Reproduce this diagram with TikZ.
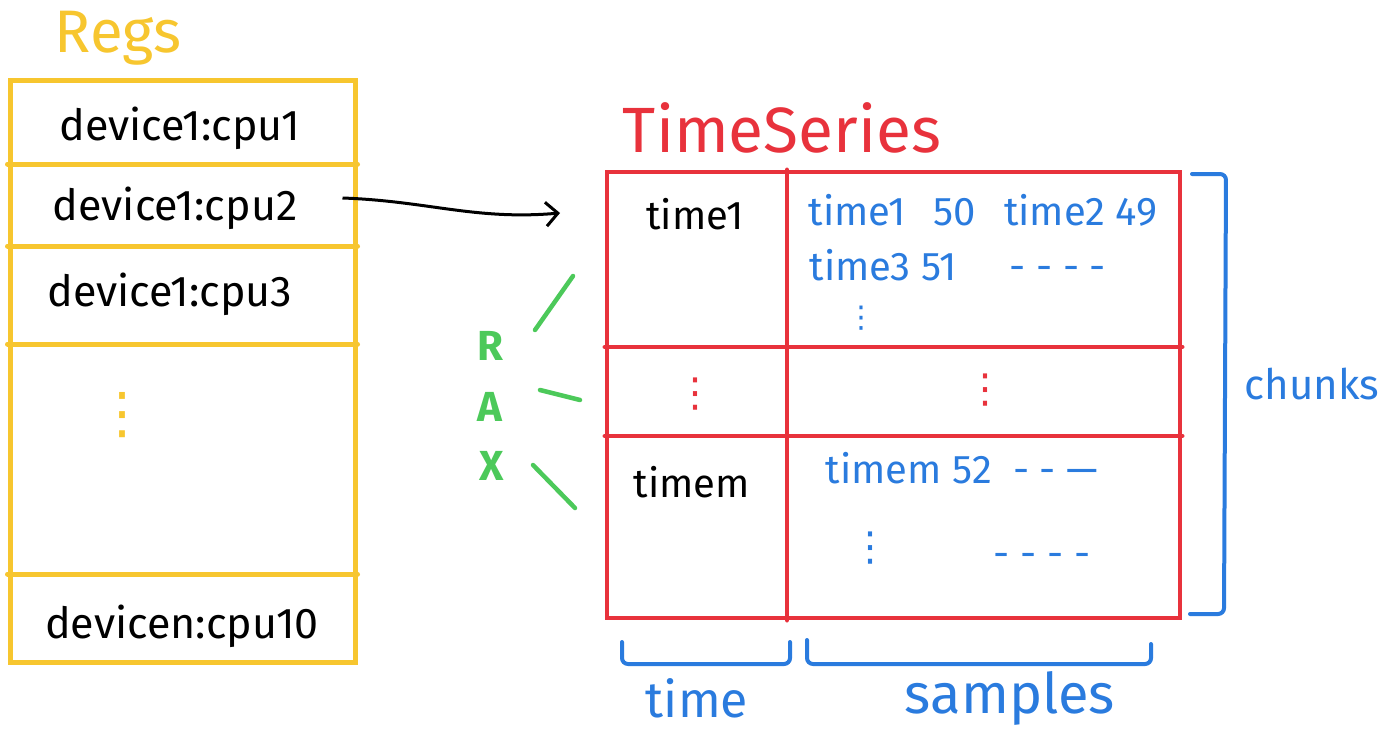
\documentclass[tikz,border=0pt]{standalone}
\usepackage{fontspec}
\setmainfont{Fira Sans}
\newfontfamily\dotsfont{DejaVu Sans}
\usepackage{xcolor}
\usetikzlibrary{arrows.meta,positioning,calc}

\definecolor{regyellow}{HTML}{F7C62F}
\definecolor{tsred}{HTML}{E8323C}
\definecolor{chunkblue}{HTML}{2A7BDE}
\definecolor{raxgreen}{HTML}{4CC95A}

\begin{document}
\begin{tikzpicture}[
    x=1pt, y=-1pt,
    regline/.style={
        draw=regyellow,
        line width=5pt,
        line cap=round
    },
    tsline/.style={
        draw=tsred,
        line width=4.5pt,
        line cap=round
    },
    reg/.style={
        font=\fontsize{43}{48}\selectfont,
        inner sep=2pt
    },
    cell/.style={
        font=\fontsize{40}{46}\selectfont,
        inner sep=2pt
    },
    sample/.style={
        font=\fontsize{40}{46}\selectfont,
        text=chunkblue,
        inner sep=2pt
    },
    more/.style={
        font=\dotsfont\fontsize{40}{46}\selectfont,
        inner sep=0pt
    },
    bracket/.style={
        draw=chunkblue,
        line width=4pt,
        line cap=round,
        rounded corners=6pt
    },
    tag/.style={
        text=chunkblue,
        inner sep=0pt
    },
    rax/.style={
        font=\fontsize{42}{46}\selectfont\bfseries,
        text=raxgreen,
        inner sep=1pt
    },
    raxmark/.style={
        draw=raxgreen,
        line width=4.5pt,
        line cap=round
    },
    arrow/.style={
        -{Straight Barb[length=12pt, width=24pt, line width=3pt]},
        line width=3pt
    }
]
\useasboundingbox (0,0) rectangle (1396,736);

% registry of series
\node[font=\fontsize{60}{66}\selectfont, text=regyellow] (regs) at (118,38) {Regs};
\node[regline, minimum width=345, minimum height=582, inner sep=0pt] (regbox) at (182.5,371) {};
\foreach \y in {164,246,344,574}
    \draw[regline] (regbox.west |- 0,\y) -- (regbox.east |- 0,\y);

\node[reg] (cpu1) at (180,128) {device1:cpu1};
\node[reg] (cpu2) at (175,208) {device1:cpu2};
\node[reg] (cpu3) at (170,294) {device1:cpu3};
\node[more, text=regyellow, font=\dotsfont\fontsize{56}{60}\selectfont] (regdots) at (122,415) {⋮};
\node[reg] (cpun) at (182,626) {devicen:cpu10};

% time series table
\node[font=\fontsize{64}{70}\selectfont, text=tsred] (tsname) at (782,128) {TimeSeries};
\node[tsline, minimum width=573, minimum height=446, inner sep=0pt] (table) at (893.5,395) {};
\draw[tsline] (787,0 |- table.north) -- (787,0 |- table.south);
\draw[tsline] (table.west |- 0,347) -- (table.east |- 0,347);
\draw[tsline] (table.west |- 0,436) -- (table.east |- 0,436);

\node[cell] (t1) at (695,214) {time1};
\node[sample] (s1) at (983,210) {time1\ \ \,50\ \ \,time2\ 49};
\node[sample] (s3) at (958,265) {time3\ 51\ \ \ \ \ - - - -};
\node[more, text=chunkblue, font=\dotsfont\fontsize{30}{34}\selectfont] (sdots) at (861,318) {⋮};
\node[more, text=tsred] (tdots) at (695,394) {⋮};
\node[more, text=tsred] (cdots) at (985,390) {⋮};
\node[cell] (tm) at (692,482) {timem};
\node[sample] (sm) at (962,468) {timem\ 52\ \ - - ---};
\node[more, text=chunkblue] (smdots) at (870,548) {⋮};
\node[sample] (smrest) at (1042,560) {- - - -};

% link from a series to its data
\coordinate (tsin) at (560,213);
\draw[arrow] ($(regbox.east |- cpu2)+(-15,-10)$) to[out=-2, in=185] (tsin);

% RAX marks
\node[rax] (rr) at (490,346) {R};
\node[rax] (ra) at (490,407) {A};
\node[rax] (rx) at (492,466) {X};
\draw[raxmark] (535,330) -- (573,276);
\draw[raxmark] (540,390) -- (580,400);
\draw[raxmark] (533,465) -- (575,508);

% brackets
\draw[bracket] (1192,174) -- (1226,174) -- (1224,614) -- (1190,614);
\node[tag, font=\fontsize{42}{48}\selectfont] (chunks) at (1312,384) {chunks};
\draw[bracket] (622,642) -- (622,664) -- (790,664) -- (790,642);
\draw[bracket] (807,640) -- (807,664) -- (1151,664) -- (1151,644);
\node[tag, font=\fontsize{50}{56}\selectfont] (timetag) at (697,698) {time};
\node[tag, font=\fontsize{56}{62}\selectfont] (samptag) at (1010,698) {samples};

\end{tikzpicture}
\end{document}
